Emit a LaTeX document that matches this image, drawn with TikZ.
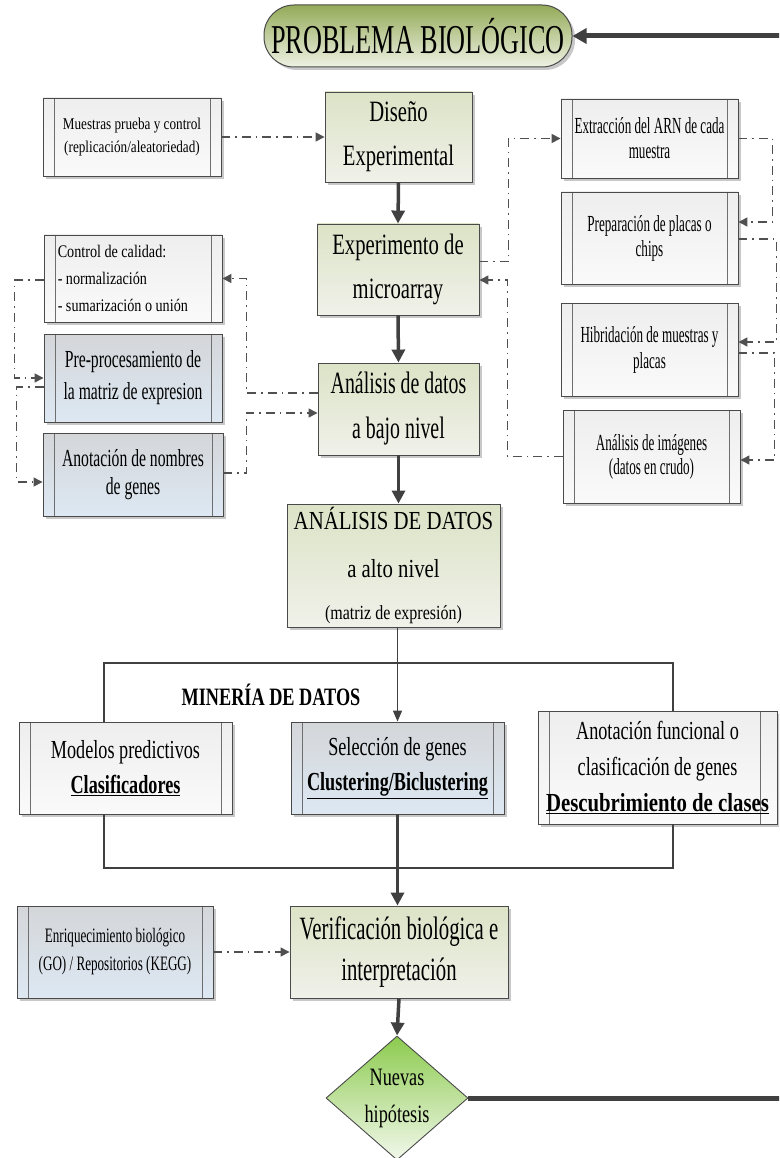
\documentclass[tikz,border=0pt]{standalone}
\usepackage{fontspec}
\setmainfont{Liberation Serif}[FakeStretch=0.80]
% condensed cuts of the same serif
\newfontfamily\condA{Liberation Serif}[FakeStretch=0.57]
\newfontfamily\condB{Liberation Serif}[FakeStretch=0.64]
\newfontfamily\condC{Liberation Serif}[FakeStretch=0.70]
\newfontfamily\condD{Liberation Serif}[FakeStretch=0.73]
\newfontfamily\condE{Liberation Serif}[FakeStretch=0.80]
\usetikzlibrary{arrows.meta,shapes.geometric,shadows,calc}

\newcommand\setfs[2]{\fontsize{#1pt}{#2pt}\selectfont}

\definecolor{titletop}{HTML}{94AA58}
\definecolor{titlebot}{HTML}{EEF2E4}
\definecolor{greentop}{HTML}{DCE3C6}
\definecolor{greenbot}{HTML}{F0F1EA}
\definecolor{whitetop}{HTML}{EEEEEE}
\definecolor{whitebot}{HTML}{FAFAFA}
\definecolor{bluetop}{HTML}{D4D6D9}
\definecolor{bluebot}{HTML}{DDE8F3}
\definecolor{diamtop}{HTML}{8CCB4E}
\definecolor{diambot}{HTML}{F2F8EC}
\definecolor{boxline}{HTML}{4A4A4A}
\definecolor{barline}{HTML}{6E6E6E}
\definecolor{arrgray}{HTML}{404040}
\definecolor{dashgray}{HTML}{505050}
\definecolor{shadowgray}{HTML}{C8C8C8}

\begin{document}
\begin{tikzpicture}[x=1pt,y=-1pt,
  boxshadow/.style={drop shadow={shadow xshift=3pt,shadow yshift=-3pt,fill=shadowgray,opacity=1}},
  basebox/.style={draw=boxline,line width=0.9pt,inner sep=0pt,align=center,boxshadow},
  greenbox/.style={basebox,top color=greentop,bottom color=greenbot},
  procbox/.style={basebox,path picture={
      \draw[barline,line width=0.9pt]
        ([xshift=11pt]path picture bounding box.north west) --
        ([xshift=11pt]path picture bounding box.south west);
      \draw[barline,line width=0.9pt]
        ([xshift=-#1pt]path picture bounding box.north east) --
        ([xshift=-#1pt]path picture bounding box.south east);}},
  procbox/.default=11,
  whitebox/.style={procbox=#1,top color=whitetop,bottom color=whitebot},
  whitebox/.default=11,
  bluebox/.style={procbox=#1,top color=bluetop,bottom color=bluebot},
  bluebox/.default=11,
  heavyarrow/.style={draw=arrgray,line width=3.5pt,-{Triangle[length=13pt,width=13pt]}},
  thinline/.style={draw=arrgray,line width=1.6pt},
  thinarrow/.style={thinline,-{Triangle[length=11pt,width=9pt]}},
  dashdot/.style={draw=dashgray,line width=1.4pt,
    dash pattern=on 9pt off 5pt on 1.5pt off 5pt,
    -{Triangle[length=9pt,width=9pt]}},
  feedback/.style={draw=arrgray,line width=5pt,-{Triangle[length=14pt,width=15pt]}},
]
\useasboundingbox (0,0) rectangle (779,1158);
\clip (0,0) rectangle (779,1158);

% ---- title ----
\node[draw=boxline,line width=1pt,rounded corners=30pt,top color=titletop,
      bottom color=titlebot,boxshadow,minimum width=308pt,minimum height=62pt,
      inner sep=0pt,font=\condB\setfs{41}{44}] (prob) at (418,36)
  {PROBLEMA BIOLÓGICO};

% ---- central column ----
\node[greenbox,minimum width=147pt,minimum height=90pt,font=\condC\setfs{29.5}{44}]
  (dis) at (398.5,137) {Diseño\\Experimental};
\node[greenbox,minimum width=162pt,minimum height=91pt,font=\condC\setfs{29.5}{44}]
  (exp) at (398,269.5) {Experimento de\\microarray};
\node[greenbox,minimum width=161pt,minimum height=92pt,font=\condB\setfs{31}{45}]
  (abajo) at (398.5,409) {Análisis de datos\\a bajo nivel};
\node[greenbox,minimum width=213pt,minimum height=123pt,font=\condE\setfs{26}{48}]
  (aalto) at (393.5,565.5)
  {ANÁLISIS DE DATOS\\a alto nivel\\[-6pt]{\setfs{20}{24}(matriz de expresión)}};
\node[greenbox,minimum width=218pt,minimum height=92pt,font=\condB\setfs{32.5}{41}]
  (ver) at (399,952) {Verificación biológica e\\interpretación};

% ---- upper left ----
\node[whitebox,minimum width=178pt,minimum height=78pt,font=\condE\setfs{16.5}{23}]
  (mues) at (132,137) {Muestras prueba y control\\(replicación/aleatoriedad)};
\node[whitebox,minimum width=178pt,minimum height=87pt] (ctrl) at (133,278.5) {};
\node[anchor=west,align=left,inner sep=0pt,font=\condE\setfs{17.7}{27}]
  (ctrltext) at ([xshift=14pt]ctrl.west)
  {Control de calidad:\\- normalización\\- sumarización o unión};
\node[bluebox,minimum width=178pt,minimum height=88pt,font=\condB\setfs{24.5}{32}]
  (prep2) at (133,378) {Pre-procesamiento de\\la matriz de expresion};
\node[bluebox,minimum width=180pt,minimum height=83pt,font=\condB\setfs{24.5}{28}]
  (anot) at (133,474.5) {Anotación de nombres\\de genes};

% ---- right column ----
\node[whitebox,minimum width=177pt,minimum height=79pt,font=\condA\setfs{23}{25}]
  (extr) at (649.5,138.5) {Extracción del ARN de cada\\muestra};
\node[whitebox,minimum width=177pt,minimum height=92pt,font=\condA\setfs{23}{25}]
  (prep) at (649.5,238) {Preparación de placas o\\chips};
\node[whitebox,minimum width=177pt,minimum height=93pt,font=\condA\setfs{23}{26}]
  (hibr) at (649.5,349.5) {Hibridación de muestras y\\placas};
\node[whitebox,minimum width=177pt,minimum height=93pt,font=\condA\setfs{23}{24}]
  (aimg) at (651.5,456.5) {Análisis de imágenes\\(datos en crudo)};

% ---- data mining ----
\node[font=\condD\setfs{25}{30}\bfseries] (mineria) at (271,695) {MINERÍA DE DATOS};
\node[whitebox,minimum width=213pt,minimum height=92pt,font=\condC\setfs{26}{35}]
  (mod) at (125.5,768) {Modelos predictivos\\\underline{\textbf{Clasificadores}}};
\node[bluebox,minimum width=213pt,minimum height=92pt,font=\condC\setfs{26}{35}]
  (sel) at (397.5,768) {Selección de genes\\\underline{\textbf{Clustering/Biclustering}}};
\node[whitebox=17,minimum width=239pt,minimum height=113pt,font=\condC\setfs{26}{36}]
  (afun) at (657.5,767.5)
  {Anotación funcional o\\clasificación de genes\\{\condE\underline{\textbf{Descubrimiento de clases}}}};

% ---- bottom ----
\node[bluebox,minimum width=196pt,minimum height=92pt,font=\condB\setfs{20.5}{28}]
  (enr) at (115,952) {Enriquecimiento biológico\\(GO) / Repositorios (KEGG)};
\node[diamond,draw=boxline,line width=0.9pt,top color=diamtop,bottom color=diambot,
      minimum width=142pt,minimum height=124pt,inner sep=0pt,align=center,
      font=\condD\setfs{25}{37}] (nh) at (397,1098) {Nuevas\\hipótesis};

% ---- main flow ----
\draw[heavyarrow] (dis.south) -- (exp.north);
\draw[heavyarrow] (exp.south) -- (abajo.north);
\draw[heavyarrow] (abajo.south) -- (abajo.south |- aalto.north);
\draw[thinarrow] (sel.north |- aalto.south) -- (sel.north);

\coordinate (jl) at (104,663);
\coordinate (jr) at (673,663);
\coordinate (bl) at (104,868);
\coordinate (br) at (673,868);
\draw[thinline] (jl |- mod.north) -- (jl) -- (jr) -- (jr |- afun.north);
\draw[thinline] (bl |- mod.south) -- (bl) -- (br) -- (br |- afun.south);
\draw[heavyarrow] (sel.south) -- (sel.south |- ver.north);
\draw[heavyarrow] (ver.south) -- (nh.north);

% feedback to the starting problem
\coordinate (fbB) at (800,1098);
\coordinate (fbT) at (800,36);
\draw[feedback] (nh.east) -- (fbB) -- (fbT) -- (prob.east);

% ---- dash-dot inputs ----
\draw[dashdot] (mues.east) -- (mues.east -| dis.west);
\draw[dashdot] (enr.east) -- (enr.east -| ver.west);

% microarray experiment loop (right)
\draw[dashdot] ([yshift=8pt]exp.east) -- ++(29,0) |- (extr.west);
\draw[dashdot] (extr.east) -- ++(34,0) |- ([yshift=16pt]prep.east);
\draw[dashdot] ([yshift=-1pt]prep.east) -- ++(38,0) |- ([yshift=7.5pt]hibr.east);
\draw[dashdot] ([yshift=-3.5pt]hibr.east) -- ++(36,0) |- ([yshift=-3.5pt]aimg.east);
\draw[dashdot] (aimg.west) -- ++(-55,0) |- ([yshift=-10.5pt]exp.east);

% low level analysis loop (left)
\draw[dashdot] ([yshift=16pt]abajo.west) -- ++(-71,0) |- (ctrl.east);
\draw[dashdot] ([yshift=-1.5pt]ctrl.west) -- ++(-29,0) |- (prep2.west);
\draw[dashdot] ([yshift=-9pt]prep2.west) -- ++(-27,0) |- ([yshift=-7.5pt]anot.west);
\draw[dashdot] ([yshift=1.5pt]anot.east) -- ++(23,0) |- ([yshift=-4pt]abajo.west);
\end{tikzpicture}
\end{document}
